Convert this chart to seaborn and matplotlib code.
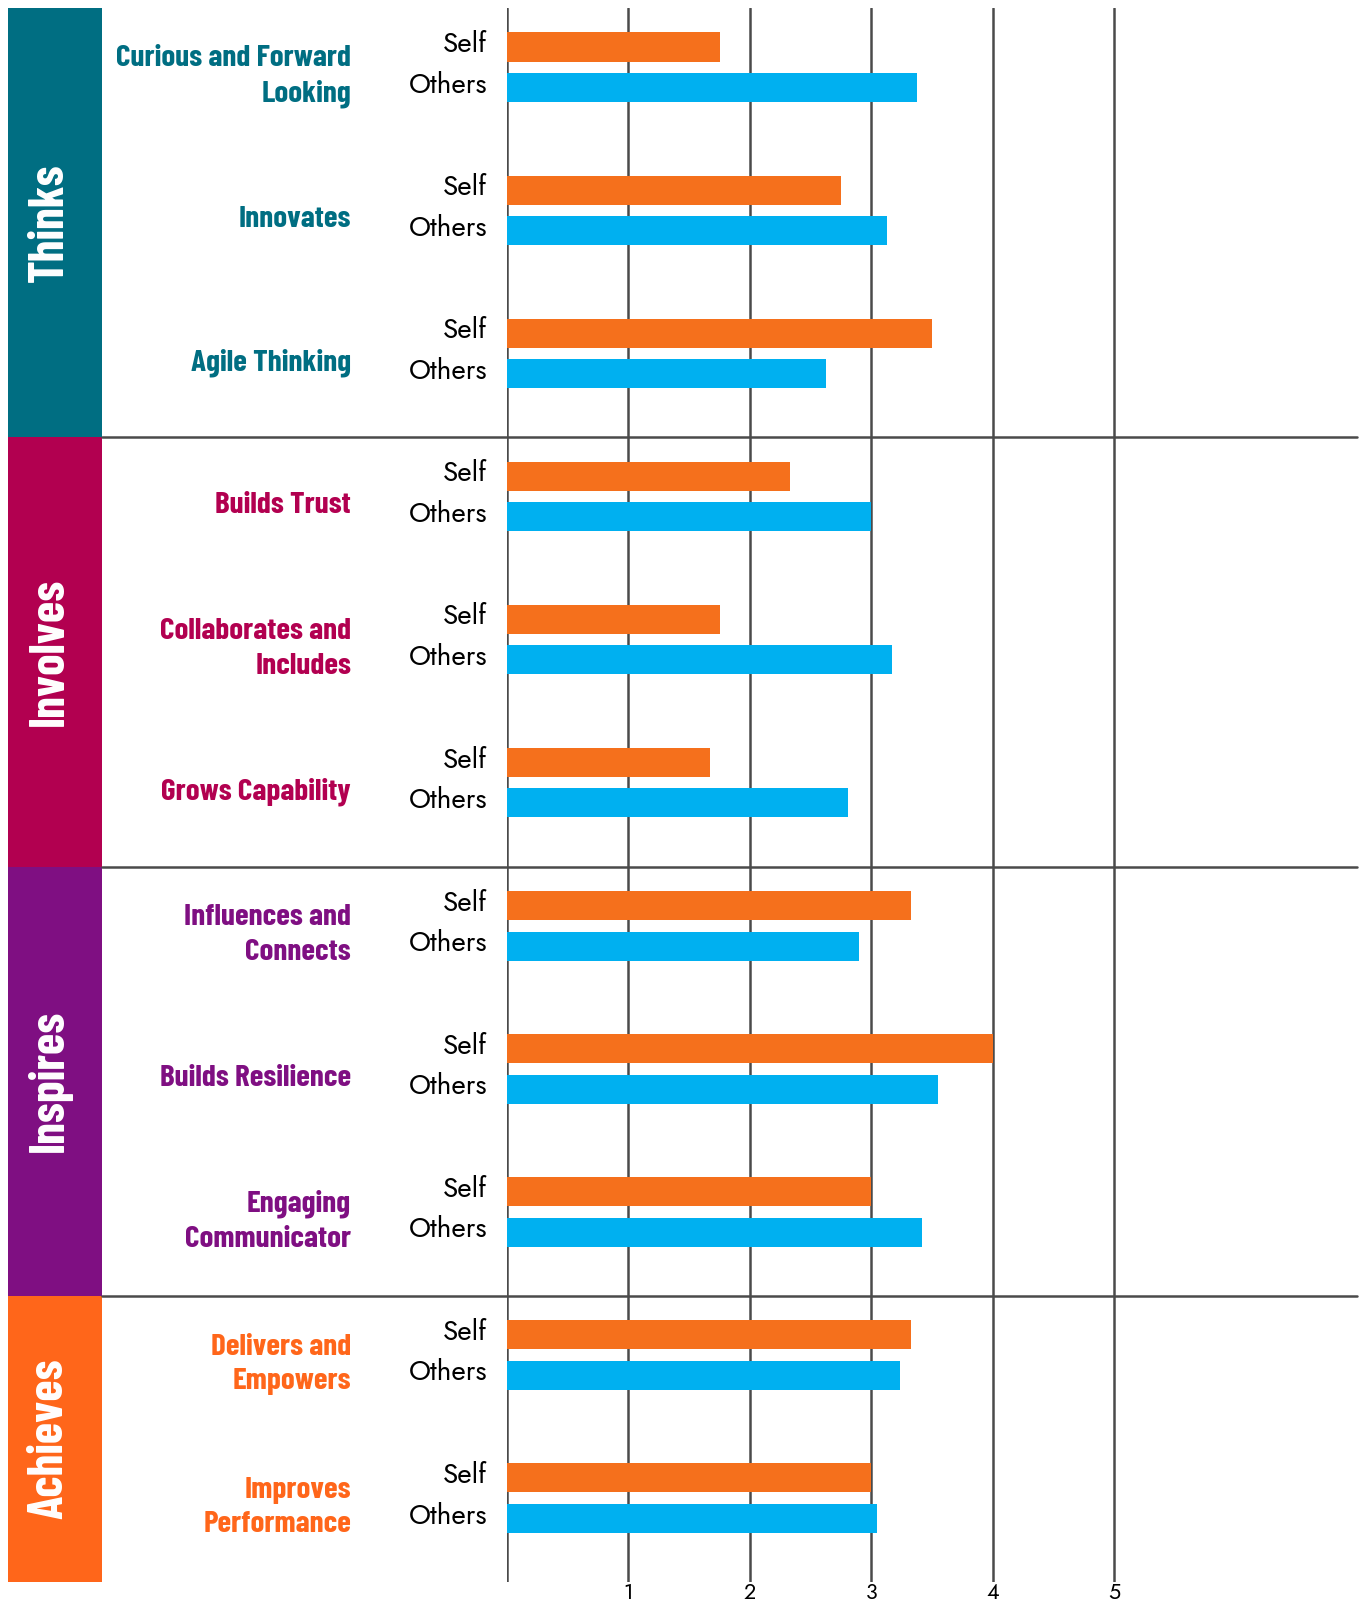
import matplotlib
matplotlib.use("Agg")
import matplotlib.pyplot as plt
from matplotlib.patches import Rectangle
import pandas as pd
import seaborn as sns

# ---- data ----
competencies = [
    "Curious and Forward\nLooking", "Innovates", "Agile Thinking",
    "Builds Trust", "Collaborates and\nIncludes", "Grows Capability",
    "Influences and\nConnects", "Builds Resilience", "Engaging\nCommunicator",
    "Delivers and\nEmpowers", "Improves\nPerformance",
]
groups = ["Thinks"] * 3 + ["Involves"] * 3 + ["Inspires"] * 3 + ["Achieves"] * 2
self_scores = [1.75, 2.75, 3.50, 2.33, 1.75, 1.67, 3.33, 4.00, 3.00, 3.33, 3.00]
others_scores = [3.38, 3.13, 2.63, 3.00, 3.17, 2.81, 2.90, 3.55, 3.42, 3.24, 3.05]
group_names = ["Thinks", "Involves", "Inspires", "Achieves"]
x_ticks = [1, 2, 3, 4, 5]

group_colors = {"Thinks": "#006E82", "Involves": "#B20050",
                "Inspires": "#7F0F82", "Achieves": "#FF661A"}
bar_colors = {"Self": "#F5701C", "Others": "#00B0F0"}
grid_color = "#4A4A4A"

cond_font = ["Barlow Condensed", "Roboto Condensed", "Liberation Sans Narrow", "DejaVu Sans"]
geo_font = ["Jost", "Lato", "DejaVu Sans"]

# long-form table for seaborn
df = pd.DataFrame({
    "competency": competencies * 2,
    "rater": ["Self"] * len(competencies) + ["Others"] * len(competencies),
    "score": self_scores + others_scores,
})

sns.set_theme(style="white")
plt.rcParams["font.family"] = geo_font

fig = plt.figure(figsize=(13.61, 16.02), dpi=100)
ax = fig.add_axes([507 / 1361, 20 / 1602, 850 / 1361, 1574 / 1602])

width, gap = 0.566, 0.283
sns.barplot(data=df, x="score", y="competency", hue="rater",
            order=competencies, hue_order=["Self", "Others"],
            palette=bar_colors, saturation=1, width=width, gap=gap,
            errorbar=None, linewidth=0, legend=False, ax=ax)

top = -0.414
n = len(competencies)
ax.set_ylim(n + top, top)
ax.set_xlim(0, 7)

# vertical grid lines at 0..5
ax.set_xticks([0] + x_ticks, [""] + [str(t) for t in x_ticks])
ax.set_yticks([])
ax.grid(axis="x", color=grid_color, linewidth=1.8)
ax.grid(axis="y", visible=False)
ax.set_axisbelow(True)
ax.tick_params(axis="x", length=0, pad=0, labelsize=15.5, labelcolor="black")
for lbl in ax.get_xticklabels():
    lbl.set_fontweight("medium")
for s in ax.spines.values():
    s.set_visible(False)
ax.set_xlabel("")
ax.set_ylabel("")

ytr = ax.get_yaxis_transform()
off = width / 4

# per-competency labels
for k, (name, grp) in enumerate(zip(competencies, groups)):
    ax.text(-0.1835, k + 0.065, name, transform=ytr, ha="right", va="center",
            color=group_colors[grp], fontsize=22.5, fontweight="bold",
            family=cond_font, linespacing=1.35)
    ax.text(-0.0235, k - off - 0.02, "Self", transform=ytr, ha="right",
            va="center", fontsize=20, fontweight="medium", color="black",
            family=geo_font)
    ax.text(-0.0235, k + off - 0.02, "Others", transform=ytr, ha="right",
            va="center", fontsize=20, fontweight="medium", color="black",
            family=geo_font)

# group bands and dividers
start = 0
for g in group_names:
    cnt = groups.count(g)
    y0, y1 = start + top, start + cnt + top
    ax.add_patch(Rectangle((-0.587, y0), 0.1106, cnt, transform=ytr,
                           facecolor=group_colors[g], edgecolor="none",
                           clip_on=False))
    ax.text(-0.5224, (y0 + y1) / 2, g, transform=ytr, rotation=90,
            rotation_mode="anchor", ha="center", va="baseline",
            color="white", fontsize=35, fontweight="bold", family=cond_font)
    if start > 0:
        ax.axhline(y0, xmin=-0.4765, xmax=1.0, color=grid_color,
                   linewidth=1.8, clip_on=False)
    start += cnt

fig.savefig("out.png", dpi=100)
